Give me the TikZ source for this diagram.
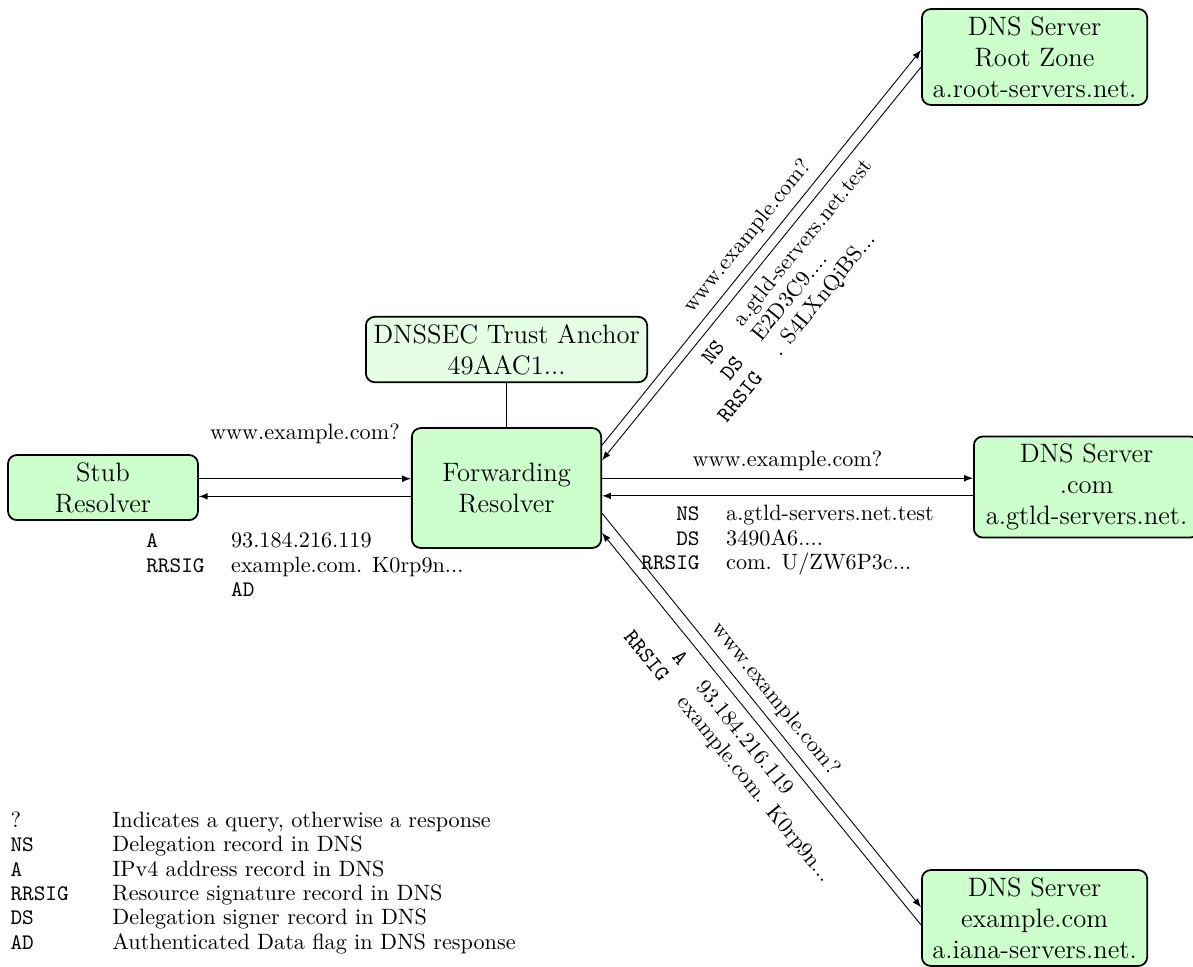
\documentclass[tikz,border=0pt]{standalone}
\usepackage{array}
\usetikzlibrary{calc}
\tikzset{
  srv/.style={draw, thick, rounded corners, fill=green!20, align=center, font=\large},
}
\renewcommand{\arraystretch}{0.92}
\newcolumntype{R}{>{\ttfamily}r}
\newcolumntype{L}{>{\ttfamily}l}
\begin{document}
\begin{tikzpicture}[>=latex]
\useasboundingbox (0,0) rectangle (18.906,-15.309);
\node[srv, minimum width=3.01cm] (stub) at (1.632,-7.726) {Stub\\Resolver};
\node[srv, minimum width=3cm, minimum height=1.9cm] (fwd) at (8.027,-7.734) {Forwarding\\Resolver};
\node[srv, fill=green!10] (anchor) at (8.027,-5.539) {DNSSEC Trust Anchor\\49AAC1...};
\node[srv, minimum width=3.57cm] (root) at (16.395,-0.903) {DNS Server\\Root Zone\\a.root-servers.net.};
\node[srv, minimum width=3.57cm] (com) at (17.219,-7.718) {DNS Server\\.com\\a.gtld-servers.net.};
\node[srv, minimum width=3.57cm] (iana) at (16.395,-14.548) {DNS Server\\example.com\\a.iana-servers.net.};

\draw (fwd.north) -- (fwd.north |- anchor.south);

\draw[->] ([yshift=.14cm]stub.east) -- ([yshift=.14cm]stub.east -| fwd.west)
  node[midway, above=12pt] (q1) {www.example.com?};
\draw[<-] ([yshift=-.14cm]stub.east) -- ([yshift=-.14cm]stub.east -| fwd.west)
  node[midway, below=12pt] (r1) {\begin{tabular}{@{}L l@{}}
    A & 93.184.216.119\\
    RRSIG & example.com. K0rp9n...\\
    & \texttt{AD}
  \end{tabular}};

\draw[->] ([yshift=.14cm]com.west -| fwd.east) -- ([yshift=.14cm]com.west)
  node[midway, above] (q2) {www.example.com?};
\draw[<-] ([yshift=-.14cm]com.west -| fwd.east) -- ([yshift=-.14cm]com.west)
  node[midway, below] (r2) {\begin{tabular}{@{}R l@{}}
    NS & a.gtld-servers.net.test\\
    DS & 3490A6....\\
    RRSIG & com. U/ZW6P3c...
  \end{tabular}};

\draw[->] ([yshift=.68cm]fwd.east) -- ([yshift=.11cm]root.west)
  node[midway, above, sloped] (q3) {www.example.com?};
\draw[<-] ([yshift=.44cm]fwd.east) -- ([yshift=-.16cm]root.west)
  node[midway, below, sloped] (r3) {\begin{tabular}{@{}R l@{}}
    NS & a.gtld-servers.net.test\\
    DS & E2D3C9....\\
    RRSIG & . S4LXnQiBS...
  \end{tabular}};

\draw[->] ([yshift=-.40cm]fwd.east) -- ([yshift=.17cm]iana.west)
  node[midway, above, sloped] (q4) {www.example.com?};
\draw[<-] ([yshift=-.71cm]fwd.east) -- ([yshift=-.11cm]iana.west)
  node[midway, below, sloped] (r4) {\begin{tabular}{@{}R l@{}}
    A & 93.184.216.119\\
    RRSIG & example.com. K0rp9n...
  \end{tabular}};

\node[anchor=south west, inner sep=0pt] (legend) at (0.16,-15.17) {\begin{tabular}{@{}L@{\hspace{19.7pt}}l@{}}
    \rmfamily ? & Indicates a query, otherwise a response\\
    NS & Delegation record in DNS\\
    A & IPv4 address record in DNS\\
    RRSIG & Resource signature record in DNS\\
    DS & Delegation signer record in DNS\\
    AD & Authenticated Data flag in DNS response
  \end{tabular}};
\end{tikzpicture}
\end{document}
